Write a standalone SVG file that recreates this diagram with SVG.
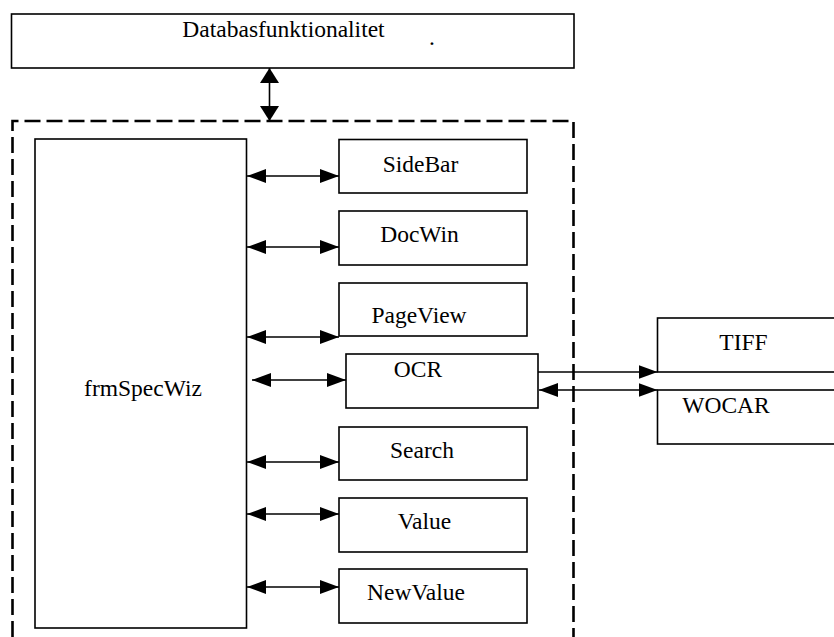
<svg xmlns="http://www.w3.org/2000/svg" width="834" height="637" viewBox="0 0 834 637">
<defs>
<style>
.box{fill:#fff;stroke:#000;stroke-width:1.6}
.lbl{font-family:"Liberation Serif","Times New Roman",serif;font-size:23.5px;fill:#000;text-anchor:middle}
.con{stroke:#000;stroke-width:1.6;fill:none}
.dash{stroke:#000;stroke-width:2.6;fill:none;stroke-dasharray:16 6}
</style>
<marker id="ah" markerUnits="userSpaceOnUse" markerWidth="19" markerHeight="14" refX="19" refY="7" orient="auto-start-reverse">
<path d="M0,0 L19,7 L0,14 z" fill="#000"/>
</marker>
<marker id="ahv" markerUnits="userSpaceOnUse" markerWidth="15" markerHeight="19" refX="15" refY="9.5" orient="auto-start-reverse">
<path d="M0,0 L15,9.5 L0,19 z" fill="#000"/>
</marker>
</defs>
<rect width="834" height="637" fill="#fff"/>

<g id="container">
<path class="dash" d="M12.5,637 V121 H573.5 V637"/>
</g>

<g id="databas">
<rect class="box" x="11.5" y="14" width="562.5" height="54"/>
<text class="lbl" x="283.5" y="37">Databasfunktionalitet</text>
<text class="lbl" x="432" y="45">.</text>
</g>

<g id="frmSpecWiz">
<rect class="box" x="35" y="139" width="211.5" height="489"/>
<text class="lbl" x="143" y="396">frmSpecWiz</text>
</g>

<g id="SideBar">
<rect class="box" x="339" y="139.5" width="188" height="53.5"/>
<text class="lbl" x="420.5" y="172">SideBar</text>
</g>
<g id="DocWin">
<rect class="box" x="339" y="211" width="188" height="54"/>
<text class="lbl" x="419.5" y="242">DocWin</text>
</g>
<g id="PageView">
<rect class="box" x="339" y="283" width="188" height="53"/>
<text class="lbl" x="419" y="323">PageView</text>
</g>
<g id="OCR">
<rect class="box" x="346" y="354" width="192" height="54"/>
<text class="lbl" x="418" y="377">OCR</text>
</g>
<g id="Search">
<rect class="box" x="339" y="427" width="188" height="53"/>
<text class="lbl" x="422" y="458">Search</text>
</g>
<g id="Value">
<rect class="box" x="339" y="498" width="188" height="54"/>
<text class="lbl" x="424.5" y="529">Value</text>
</g>
<g id="NewValue">
<rect class="box" x="339" y="569" width="188" height="54"/>
<text class="lbl" x="416" y="600">NewValue</text>
</g>

<g id="TIFF">
<rect class="box" x="657.5" y="318" width="200" height="54"/>
<text class="lbl" x="743.5" y="350">TIFF</text>
</g>
<g id="WOCAR">
<rect class="box" x="657.5" y="390" width="200" height="54"/>
<text class="lbl" x="726" y="413">WOCAR</text>
</g>

<g id="connectors">
<line class="con" x1="269.5" y1="68" x2="269.5" y2="121" marker-start="url(#ahv)" marker-end="url(#ahv)"/>
<line class="con" x1="247" y1="176" x2="339" y2="176" marker-start="url(#ah)" marker-end="url(#ah)"/>
<line class="con" x1="247" y1="247" x2="339" y2="247" marker-start="url(#ah)" marker-end="url(#ah)"/>
<line class="con" x1="247" y1="337" x2="339" y2="337" marker-start="url(#ah)" marker-end="url(#ah)"/>
<line class="con" x1="252" y1="380" x2="346" y2="380" marker-start="url(#ah)" marker-end="url(#ah)"/>
<line class="con" x1="247" y1="462" x2="339" y2="462" marker-start="url(#ah)" marker-end="url(#ah)"/>
<line class="con" x1="247" y1="514" x2="339" y2="514" marker-start="url(#ah)" marker-end="url(#ah)"/>
<line class="con" x1="247" y1="587" x2="339" y2="587" marker-start="url(#ah)" marker-end="url(#ah)"/>
<line class="con" x1="538" y1="372" x2="657.5" y2="372" marker-end="url(#ah)"/>
<line class="con" x1="539" y1="390" x2="657.5" y2="390" marker-start="url(#ah)" marker-end="url(#ah)"/>
</g>
</svg>
